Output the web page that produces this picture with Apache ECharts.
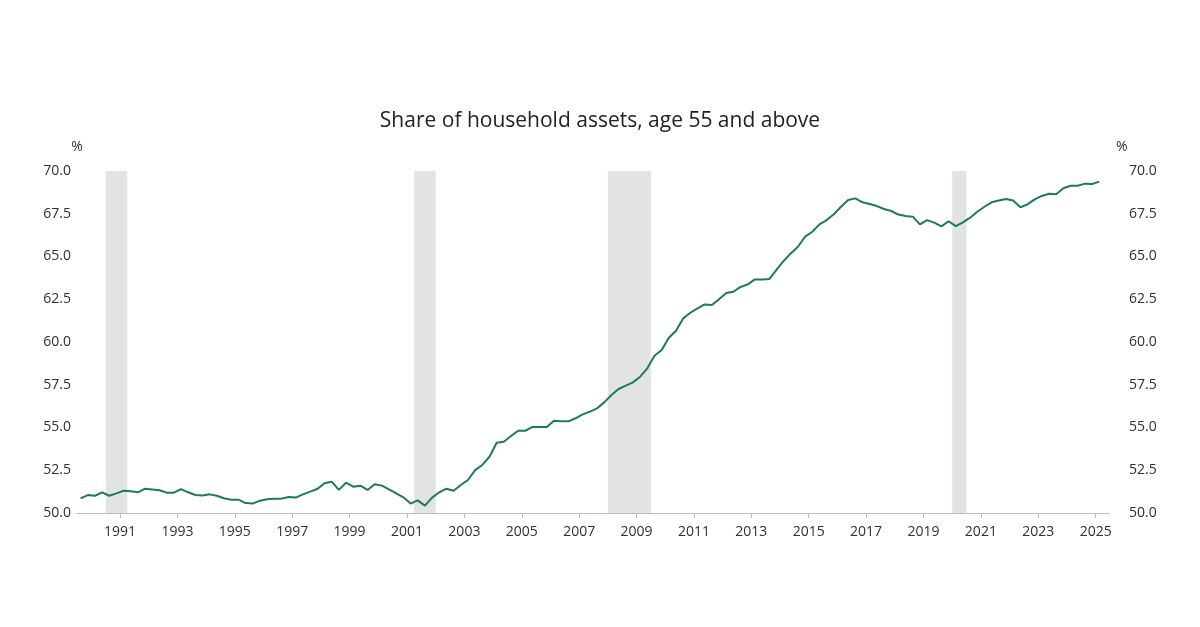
<!DOCTYPE html>
<html><head><meta charset="utf-8">
<script src="https://cdn.jsdelivr.net/npm/echarts@6/dist/echarts.min.js"></script>
<style>html,body{margin:0;padding:0;background:#fff}#c{width:1200px;height:627px}</style>
</head><body><div id="c"></div>
<script>
const chartTitle = 'Share of household assets, age 55 and above';
const firstQuarter = '1989Q3';
// quarterly share (%), 1989Q3 .. 2025Q1
const shareValues = [
  50.86, 51.05,
  51.01, 51.21, 51.01, 51.15,
  51.30, 51.27, 51.21, 51.42,
  51.38, 51.33, 51.19, 51.19,
  51.40, 51.21, 51.05, 51.03,
  51.09, 51.01, 50.86, 50.78,
  50.78, 50.58, 50.55, 50.72,
  50.80, 50.84, 50.84, 50.94,
  50.90, 51.09, 51.25, 51.40,
  51.74, 51.83, 51.35, 51.77,
  51.54, 51.60, 51.35, 51.68,
  51.60, 51.38, 51.15, 50.92,
  50.55, 50.74, 50.43, 50.90,
  51.21, 51.42, 51.30, 51.64,
  51.93, 52.51, 52.81, 53.29,
  54.11, 54.17, 54.50, 54.81,
  54.81, 55.03, 55.03, 55.03,
  55.40, 55.36, 55.36, 55.54,
  55.77, 55.93, 56.12, 56.47,
  56.90, 57.25, 57.45, 57.64,
  57.97, 58.46, 59.20, 59.53,
  60.25, 60.66, 61.38, 61.71,
  61.97, 62.20, 62.16, 62.50,
  62.87, 62.94, 63.22, 63.37,
  63.66, 63.66, 63.68, 64.22,
  64.74, 65.18, 65.57, 66.16,
  66.45, 66.88, 67.13, 67.47,
  67.91, 68.30, 68.40, 68.17,
  68.07, 67.95, 67.78, 67.66,
  67.45, 67.37, 67.33, 66.88,
  67.13, 66.98, 66.76, 67.06,
  66.78, 67.00, 67.27, 67.62,
  67.91, 68.17, 68.27, 68.36,
  68.27, 67.88, 68.05, 68.34,
  68.54, 68.67, 68.64, 68.99,
  69.14, 69.14, 69.26, 69.24,
  69.38
];
const yearTicks = [1991,1993,1995,1997,1999,2001,2003,2005,2007,2009,2011,2013,2015,2017,2019,2021,2023,2025];
const recessions = [['1990Q3','1991Q1'], ['2001Q2','2001Q4'], ['2008Q1','2009Q2'], ['2020Q1','2020Q2']];

function quarterStart(label) {
  const y = +label.slice(0, 4), q = +label.slice(5);
  return y + (q - 1) * 0.25;
}
const startYear = +firstQuarter.slice(0, 4), startQ = +firstQuarter.slice(5);
const seriesData = shareValues.map((v, i) => {
  const qi = startQ - 1 + i;
  const label = (startYear + Math.floor(qi / 4)) + 'Q' + (qi % 4 + 1);
  return [quarterStart(label) + 0.125, v];
});
const shadeData = recessions.map(r => [{ xAxis: quarterStart(r[0]) }, { xAxis: quarterStart(r[1]) + 0.25 }]);

const font = 'Open Sans';
const textColor = '#303030';
function yAxisCfg(pos) {
  return {
    type: 'value', position: pos, min: 50, max: 70, interval: 2.5,
    axisLine: { show: false }, axisTick: { show: false }, splitLine: { show: false },
    axisLabel: { formatter: v => v.toFixed(1), color: textColor, fontSize: 14, fontFamily: font, margin: pos === 'left' ? 6 : 19 },
    name: '%', nameLocation: 'end', nameGap: 17,
    nameTextStyle: pos === 'left'
      ? { color: textColor, fontSize: 14, fontFamily: font }
      : { color: textColor, fontSize: 14, fontFamily: font, align: 'left', padding: [0, 0, 0, 6] }
  };
}

const chart = echarts.init(document.getElementById('c'));
chart.setOption({
  backgroundColor: '#ffffff',
  animation: false,
  title: { text: chartTitle, left: 'center', top: 106, textStyle: { fontFamily: font, fontSize: 21, fontWeight: 'normal', color: '#222222' } },
  grid: { left: 77, right: 90, top: 171, bottom: 114, containLabel: false },
  xAxis: {
    type: 'value', min: 1989.5, max: 2025.5,
    axisLine: { lineStyle: { color: '#bdbdbd', width: 1 } },
    axisTick: { show: true, customValues: yearTicks, length: 5, lineStyle: { color: '#bdbdbd' } },
    axisLabel: { customValues: yearTicks, formatter: v => String(v), color: textColor, fontSize: 14, fontFamily: font, margin: 12 },
    splitLine: { show: false }
  },
  yAxis: [yAxisCfg('left'), yAxisCfg('right')],
  series: [{
    type: 'line', data: seriesData, showSymbol: false, symbol: 'none',
    lineStyle: { color: '#1f7a5c', width: 2 },
    z: 3,
    markArea: { silent: true, itemStyle: { color: '#e2e4e3', opacity: 1 }, data: shadeData }
  }]
});
</script>
</body></html>
